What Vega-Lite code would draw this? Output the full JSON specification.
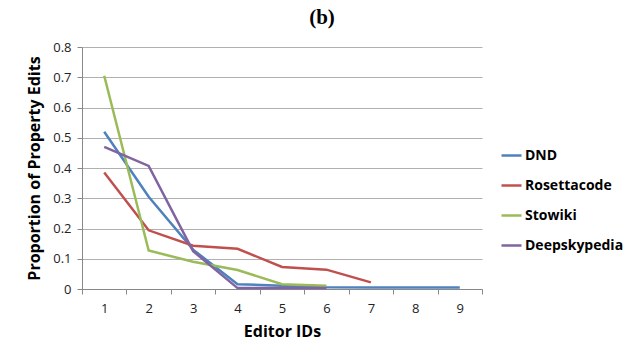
{
  "$schema": "https://vega.github.io/schema/vega-lite/v6.json",
  "width": 400,
  "height": 242,
  "autosize": {"type": "none"},
  "padding": {"left": 82, "top": 47, "right": 155, "bottom": 71},
  "background": "white",
  "title": {
    "text": "(b)",
    "font": "Liberation Serif",
    "fontSize": 21,
    "fontWeight": "bold",
    "color": "black",
    "anchor": "middle",
    "frame": "group",
    "dx": 40,
    "offset": 13
  },
  "config": {
    "view": {"stroke": null},
    "font": "Open Sans"
  },
  "data": {
    "values": [
      {"editor": 1, "wiki": "DND", "p": 0.52},
      {"editor": 2, "wiki": "DND", "p": 0.305},
      {"editor": 3, "wiki": "DND", "p": 0.13},
      {"editor": 4, "wiki": "DND", "p": 0.016},
      {"editor": 5, "wiki": "DND", "p": 0.011},
      {"editor": 6, "wiki": "DND", "p": 0.006},
      {"editor": 7, "wiki": "DND", "p": 0.005},
      {"editor": 8, "wiki": "DND", "p": 0.005},
      {"editor": 9, "wiki": "DND", "p": 0.005},
      {"editor": 1, "wiki": "Rosettacode", "p": 0.385},
      {"editor": 2, "wiki": "Rosettacode", "p": 0.194},
      {"editor": 3, "wiki": "Rosettacode", "p": 0.143},
      {"editor": 4, "wiki": "Rosettacode", "p": 0.133},
      {"editor": 5, "wiki": "Rosettacode", "p": 0.073},
      {"editor": 6, "wiki": "Rosettacode", "p": 0.064},
      {"editor": 7, "wiki": "Rosettacode", "p": 0.022},
      {"editor": 1, "wiki": "Stowiki", "p": 0.705},
      {"editor": 2, "wiki": "Stowiki", "p": 0.127},
      {"editor": 3, "wiki": "Stowiki", "p": 0.09},
      {"editor": 4, "wiki": "Stowiki", "p": 0.063},
      {"editor": 5, "wiki": "Stowiki", "p": 0.016},
      {"editor": 6, "wiki": "Stowiki", "p": 0.011},
      {"editor": 1, "wiki": "Deepskypedia", "p": 0.47},
      {"editor": 2, "wiki": "Deepskypedia", "p": 0.407},
      {"editor": 3, "wiki": "Deepskypedia", "p": 0.125},
      {"editor": 4, "wiki": "Deepskypedia", "p": 0.003},
      {"editor": 5, "wiki": "Deepskypedia", "p": 0.003},
      {"editor": 6, "wiki": "Deepskypedia", "p": 0.003}
    ]
  },
  "mark": {"type": "line", "strokeWidth": 2.5},
  "encoding": {
    "x": {
      "field": "editor",
      "type": "ordinal",
      "bandPosition": 0.5,
      "scale": {"type": "band", "paddingInner": 0, "paddingOuter": 0},
      "axis": {
        "title": "Editor IDs",
        "titleFont": "Open Sans",
        "titleFontSize": 16,
        "titleFontWeight": "bold",
        "titleColor": "black",
        "titlePadding": 8,
        "labelAngle": 0,
        "labelFontSize": 13,
        "labelColor": "#222",
        "labelPadding": 8,
        "tickBand": "extent",
        "tickSize": 5,
        "tickColor": "#888",
        "domainColor": "#888",
        "grid": false
      }
    },
    "y": {
      "field": "p",
      "type": "quantitative",
      "scale": {"domain": [0, 0.8], "nice": false},
      "axis": {
        "title": "Proportion of Property Edits",
        "titleFont": "Open Sans",
        "titleFontSize": 16,
        "titleFontWeight": "bold",
        "titleColor": "black",
        "titlePadding": 10,
        "values": [0, 0.1, 0.2, 0.3, 0.4, 0.5, 0.6, 0.7, 0.8],
        "format": ".1~f",
        "labelFontSize": 13,
        "labelColor": "#222",
        "labelPadding": 6,
        "tickSize": 5,
        "tickColor": "#888",
        "domainColor": "#888",
        "gridColor": "#b0b0b0",
        "gridWidth": 1
      }
    },
    "color": {
      "field": "wiki",
      "type": "nominal",
      "sort": ["DND", "Rosettacode", "Stowiki", "Deepskypedia"],
      "scale": {
        "domain": ["DND", "Rosettacode", "Stowiki", "Deepskypedia"],
        "range": ["#4F81BD", "#C0504D", "#9BBB59", "#8064A2"]
      },
      "legend": {
        "title": null,
        "orient": "none",
        "legendX": 418,
        "legendY": 97,
        "symbolType": "stroke",
        "symbolSize": 400,
        "symbolStrokeWidth": 2.5,
        "labelFont": "Open Sans",
        "labelFontSize": 14,
        "labelFontWeight": "bold",
        "labelColor": "black",
        "rowPadding": 11,
        "labelOffset": 2
      }
    }
  }
}
